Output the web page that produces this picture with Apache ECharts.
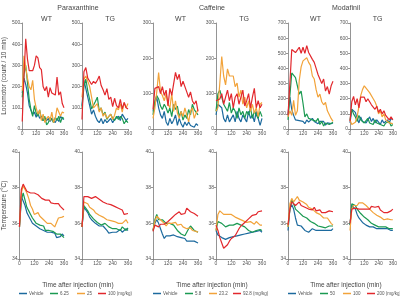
<!DOCTYPE html>
<html>
<head>
<meta charset="utf-8">
<script src="https://cdn.jsdelivr.net/npm/echarts@6/dist/echarts.min.js"></script>
<style>
  html, body { margin: 0; padding: 0; background: #fff; }
  #main { width: 400px; height: 297px; }
</style>
</head>
<body>
<div id="main"></div>
<script>
// sampling times (min) and tick labels
var times = [0, 15, 30, 45, 60, 75, 90, 105, 120, 135, 150, 165, 180, 195, 210, 225, 240, 255, 270, 285, 300, 315, 330, 345, 360];
var xTicks = [0, 120, 240, 360];
var drugs = ['Paraxanthine', 'Caffeine', 'Modafinil'];
var genotypes = ['WT', 'TG'];
var pxDoses = ['Vehicle', '6.25', '25', '100 (mg/kg)'];
var cafDoses = ['Vehicle', '5.8', '23.2', '92.8 (mg/kg)'];
var modDoses = ['Vehicle', '50', '100', '200 (mg/kg)'];
var locoMax = [500, 300, 700];

// locomotor (count / 10 min)
var pxWtLocoVeh = [170, 240, 210, 170, 110, 90, 70, 80, 55, 75, 50, 60, 40, 50, 40, 50, 35, 50, 40, 30, 50, 35, 60, 50, 45];
var pxWtLocoLow = [150, 260, 300, 220, 140, 90, 60, 110, 75, 60, 90, 50, 40, 60, 20, 30, 55, 45, 30, 55, 40, 60, 30, 55, 50];
var pxWtLocoMid = [180, 345, 290, 240, 200, 185, 230, 140, 100, 70, 90, 40, 70, 30, 50, 60, 40, 80, 30, 50, 100, 80, 60, 80, 75];
var pxWtLocoHigh = [35, 250, 425, 330, 275, 270, 275, 300, 345, 335, 290, 280, 200, 180, 200, 150, 195, 170, 175, 160, 245, 160, 175, 120, 100];
var pxTgLocoVeh = [110, 230, 190, 150, 110, 70, 90, 60, 40, 30, 50, 25, 45, 30, 40, 50, 30, 45, 40, 60, 40, 70, 55, 40, 50];
var pxTgLocoLow = [100, 200, 235, 180, 140, 95, 90, 130, 150, 85, 100, 65, 80, 45, 60, 70, 50, 40, 60, 45, 60, 50, 25, 40, 30];
var pxTgLocoMid = [150, 235, 250, 225, 200, 150, 100, 95, 120, 80, 100, 60, 75, 50, 60, 70, 45, 65, 100, 90, 120, 80, 125, 100, 120];
var pxTgLocoHigh = [45, 270, 290, 240, 225, 210, 225, 215, 230, 250, 205, 185, 160, 190, 140, 150, 105, 145, 110, 100, 140, 95, 125, 100, 95];

var cafWtLocoVeh = [50, 70, 90, 60, 40, 30, 50, 20, 10, 30, 15, 25, 40, 10, 30, 15, 5, 20, 10, 20, 10, 15, 5, 15, 10];
var cafWtLocoLow = [40, 80, 95, 85, 65, 55, 70, 60, 45, 60, 35, 70, 55, 65, 35, 50, 25, 40, 30, 55, 40, 70, 55, 50, 40];
var cafWtLocoMid = [30, 60, 105, 160, 105, 95, 80, 100, 70, 60, 100, 50, 80, 45, 30, 50, 35, 60, 40, 20, 50, 60, 30, 45, 55];
var cafWtLocoHigh = [55, 115, 110, 120, 100, 120, 95, 110, 65, 115, 95, 100, 160, 140, 155, 120, 135, 140, 105, 90, 105, 80, 70, 80, 50];
var cafTgLocoVeh = [40, 70, 75, 60, 30, 20, 40, 20, 30, 40, 20, 50, 30, 20, 40, 30, 20, 50, 30, 40, 20, 50, 30, 10, 30];
var cafTgLocoLow = [50, 100, 110, 90, 70, 60, 50, 75, 45, 60, 50, 30, 60, 40, 50, 30, 50, 40, 60, 30, 50, 40, 30, 50, 35];
var cafTgLocoMid = [50, 60, 130, 205, 150, 125, 170, 150, 155, 150, 120, 130, 90, 110, 70, 90, 60, 80, 50, 70, 45, 60, 35, 70, 75];
var cafTgLocoHigh = [80, 75, 85, 100, 70, 90, 110, 80, 100, 60, 90, 100, 70, 90, 110, 65, 80, 100, 60, 90, 115, 60, 80, 60, 70];

var modWtLocoVeh = [100, 210, 130, 90, 60, 50, 55, 45, 50, 35, 60, 45, 45, 70, 50, 60, 35, 50, 40, 50, 25, 40, 50, 35, 40];
var modWtLocoLow = [60, 220, 370, 375, 340, 330, 230, 250, 170, 80, 100, 70, 80, 60, 70, 50, 70, 30, 50, 20, 40, 50, 30, 40, 45];
var modWtLocoMid = [80, 120, 90, 190, 90, 120, 320, 410, 450, 460, 470, 440, 420, 350, 330, 260, 210, 230, 180, 160, 175, 120, 130, 70, 50];
var modWtLocoHigh = [90, 300, 525, 520, 505, 500, 540, 500, 540, 500, 550, 505, 510, 460, 440, 400, 360, 370, 300, 330, 250, 280, 230, 285, 315];
var modTgLocoVeh = [40, 130, 130, 110, 70, 40, 80, 50, 60, 40, 60, 80, 50, 70, 40, 60, 50, 30, 60, 40, 50, 60, 40, 70, 60];
var modTgLocoLow = [60, 130, 100, 80, 50, 90, 60, 70, 40, 50, 70, 40, 50, 30, 60, 40, 50, 30, 40, 20, 40, 30, 50, 20, 30];
var modTgLocoMid = [60, 30, 30, 45, 80, 150, 220, 260, 285, 270, 280, 240, 250, 200, 180, 150, 100, 120, 80, 100, 60, 50, 40, 30, 35];
var modTgLocoHigh = [50, 180, 215, 160, 200, 140, 210, 220, 210, 180, 200, 180, 160, 170, 130, 150, 110, 130, 100, 120, 90, 80, 60, 80, 60];

// body temperature (°C)
var pxWtTempVeh = [35.8, 37.5, 37.6, 37.0, 36.6, 36.4, 36.2, 36.0, 35.9, 35.85, 35.8, 35.7, 35.65, 35.6, 35.6, 35.5, 35.6, 35.5, 35.4, 35.45, 35.2, 35.3, 35.25, 35.4, 35.3];
var pxWtTempLow = [35.8, 37.3, 37.7, 37.3, 36.9, 36.7, 36.5, 36.3, 36.15, 36.0, 35.95, 35.9, 35.8, 35.85, 35.6, 35.7, 35.6, 35.5, 35.55, 35.5, 35.4, 35.35, 35.4, 35.3, 35.2];
var pxWtTempMid = [35.8, 37.7, 38.1, 37.9, 37.7, 37.4, 37.0, 36.8, 36.5, 36.5, 36.6, 36.4, 36.3, 36.2, 36.2, 36.0, 36.1, 36.0, 36.0, 35.8, 35.7, 36.3, 36.4, 36.35, 36.4];
var pxWtTempHigh = [35.8, 37.9, 38.2, 38.0, 37.8, 37.7, 37.7, 37.75, 37.7, 37.7, 37.6, 37.5, 37.4, 37.3, 37.3, 37.25, 37.3, 37.15, 37.1, 37.1, 37.05, 37.1, 36.95, 37.0, 36.75];
var pxTgTempVeh = [35.8, 36.9, 36.75, 36.6, 36.35, 36.2, 36.1, 36.0, 35.9, 35.85, 35.9, 35.85, 35.75, 35.6, 35.45, 35.45, 35.5, 35.6, 35.5, 35.6, 35.65, 35.5, 35.6, 35.7, 35.6];
var pxTgTempLow = [35.8, 37.0, 37.0, 36.7, 36.5, 36.4, 36.25, 36.2, 36.05, 36.0, 35.9, 35.95, 36.0, 35.9, 35.8, 35.85, 35.7, 35.8, 35.7, 35.75, 35.6, 35.8, 35.7, 35.6, 35.75];
var pxTgTempMid = [35.8, 37.2, 37.2, 37.1, 36.9, 36.8, 36.75, 36.6, 36.5, 36.45, 36.4, 36.35, 36.3, 36.2, 36.2, 36.15, 36.1, 36.1, 36.05, 36.0, 36.0, 36.0, 35.9, 36.2, 36.0];
var pxTgTempHigh = [35.8, 37.5, 37.6, 37.5, 37.4, 37.4, 37.45, 37.5, 37.4, 37.35, 37.3, 37.2, 37.1, 37.1, 37.0, 37.05, 37.0, 36.95, 36.9, 36.85, 36.8, 36.75, 36.5, 36.5, 36.55];

var cafWtTempVeh = [35.6, 36.0, 36.2, 36.0, 35.7, 35.4, 35.15, 35.3, 35.2, 35.3, 35.2, 35.35, 35.3, 35.25, 35.2, 35.2, 35.1, 35.15, 35.0, 35.05, 35.0, 34.9, 35.0, 34.95, 34.9];
var cafWtTempLow = [35.6, 36.2, 36.5, 36.2, 36.1, 36.2, 36.2, 36.0, 36.1, 36.0, 36.0, 35.9, 35.8, 35.6, 35.5, 35.4, 35.3, 35.3, 35.5, 35.7, 35.85, 35.9, 35.6, 35.6, 35.5];
var cafWtTempMid = [35.6, 36.1, 36.4, 36.3, 36.2, 36.1, 36.0, 35.85, 36.0, 36.1, 36.0, 36.0, 36.05, 35.9, 35.8, 35.95, 35.8, 35.85, 35.7, 35.8, 35.75, 35.6, 35.7, 35.55, 35.5];
var cafWtTempHigh = [35.55, 35.9, 36.0, 35.8, 35.95, 35.9, 35.95, 36.0, 36.1, 36.2, 36.3, 36.35, 36.5, 36.55, 36.65, 36.5, 36.4, 36.55, 36.85, 36.8, 36.65, 36.7, 36.55, 36.5, 36.4];
var cafTgTempVeh = [35.6, 35.35, 35.25, 35.2, 35.15, 35.1, 35.15, 35.2, 35.2, 35.25, 35.3, 35.3, 35.3, 35.35, 35.35, 35.4, 35.45, 35.45, 35.5, 35.5, 35.55, 35.55, 35.5, 35.6, 35.5];
var cafTgTempLow = [35.6, 36.1, 36.2, 36.0, 35.9, 35.8, 35.8, 35.9, 35.8, 35.9, 35.9, 36.0, 36.0, 35.9, 36.0, 35.8, 35.7, 35.6, 35.55, 35.5, 35.6, 35.6, 35.7, 35.65, 35.6];
var cafTgTempMid = [35.6, 36.5, 36.7, 36.6, 36.5, 36.55, 36.5, 36.45, 36.5, 36.4, 36.35, 36.3, 36.25, 36.2, 36.15, 36.1, 36.05, 36.0, 36.1, 36.0, 35.95, 36.1, 36.0, 35.9, 35.9];
var cafTgTempHigh = [35.9, 35.6, 35.2, 34.9, 34.6, 34.55, 34.8, 35.0, 35.15, 35.25, 35.3, 35.5, 35.7, 35.85, 35.95, 36.05, 36.15, 36.25, 36.35, 36.45, 36.55, 36.5, 36.65, 36.6, 36.7];

var modWtTempVeh = [35.6, 36.8, 37.05, 36.8, 36.3, 35.9, 35.8, 35.85, 35.75, 35.6, 35.5, 35.5, 35.55, 35.7, 35.7, 35.6, 35.5, 35.6, 35.7, 35.6, 35.7, 35.6, 35.7, 35.6, 35.7];
var modWtTempLow = [35.8, 36.8, 37.3, 37.1, 36.8, 36.7, 36.6, 36.5, 36.4, 36.3, 36.3, 36.2, 36.1, 36.0, 36.0, 35.9, 35.85, 35.8, 35.8, 35.7, 35.75, 35.8, 35.85, 35.8, 35.85];
var modWtTempMid = [35.8, 37.1, 37.4, 37.2, 37.35, 37.5, 37.3, 37.4, 37.2, 37.1, 37.05, 36.9, 36.9, 36.8, 36.85, 36.6, 36.7, 36.5, 36.5, 36.3, 36.25, 36.3, 36.15, 36.0, 35.9];
var modWtTempHigh = [35.9, 36.8, 37.2, 37.1, 37.0, 37.1, 37.2, 37.0, 37.0, 36.9, 36.95, 36.8, 36.8, 36.75, 36.9, 36.7, 36.65, 36.75, 36.6, 36.65, 36.6, 36.55, 36.7, 36.7, 36.65];
var modTgTempVeh = [35.9, 37.0, 37.05, 36.8, 36.5, 36.3, 36.2, 36.05, 36.0, 35.9, 36.0, 35.8, 35.9, 35.8, 35.8, 35.7, 35.8, 35.7, 35.8, 35.7, 35.6, 35.7, 35.7, 35.6, 35.6];
var modTgTempLow = [35.9, 37.1, 37.2, 37.0, 36.8, 36.7, 36.55, 36.45, 36.35, 36.25, 36.2, 36.1, 36.0, 36.0, 35.9, 35.9, 35.8, 35.8, 35.8, 35.85, 35.8, 35.7, 35.7, 35.75, 35.7];
var modTgTempMid = [35.6, 36.8, 37.0, 37.05, 37.0, 37.15, 37.2, 37.15, 37.1, 37.0, 36.9, 36.8, 36.7, 36.6, 36.5, 36.45, 36.4, 36.35, 36.3, 36.2, 36.3, 36.25, 36.2, 36.2, 36.2];
var modTgTempHigh = [36.0, 36.8, 36.9, 36.85, 36.9, 36.8, 36.7, 36.8, 36.75, 36.8, 36.9, 36.8, 36.95, 37.0, 36.9, 36.85, 36.95, 36.75, 36.7, 36.6, 36.7, 36.6, 36.65, 36.7, 36.8];

var colors = ['#1c6a9e', '#1b9a52', '#f2a33a', '#e2282d'];
var font = 'Liberation Sans, Arial, sans-serif';
var grey = '#7a7a7a';

// panel columns: [drug index, genotype index, left, width]
var cols = [
  [0, 0, 19, 45], [0, 1, 82, 46],
  [1, 0, 153, 45], [1, 1, 216, 46],
  [2, 0, 288, 45], [2, 1, 350, 45]
];
var rows = [{ top: 23, height: 106 }, { top: 152, height: 107 }];
// legend icon left edges, one row per drug
var legendLefts = [[19, 50, 77, 98], [153, 185, 209, 233], [288, 320, 343, 367]];

var loco = [
  [[pxWtLocoVeh, pxWtLocoLow, pxWtLocoMid, pxWtLocoHigh], [pxTgLocoVeh, pxTgLocoLow, pxTgLocoMid, pxTgLocoHigh]],
  [[cafWtLocoVeh, cafWtLocoLow, cafWtLocoMid, cafWtLocoHigh], [cafTgLocoVeh, cafTgLocoLow, cafTgLocoMid, cafTgLocoHigh]],
  [[modWtLocoVeh, modWtLocoLow, modWtLocoMid, modWtLocoHigh], [modTgLocoVeh, modTgLocoLow, modTgLocoMid, modTgLocoHigh]]
];
var temp = [
  [[pxWtTempVeh, pxWtTempLow, pxWtTempMid, pxWtTempHigh], [pxTgTempVeh, pxTgTempLow, pxTgTempMid, pxTgTempHigh]],
  [[cafWtTempVeh, cafWtTempLow, cafWtTempMid, cafWtTempHigh], [cafTgTempVeh, cafTgTempLow, cafTgTempMid, cafTgTempHigh]],
  [[modWtTempVeh, modWtTempLow, modWtTempMid, modWtTempHigh], [modTgTempVeh, modTgTempLow, modTgTempMid, modTgTempHigh]]
];
var doseNames = [pxDoses, cafDoses, modDoses];

function pairs(ys) {
  return ys.map(function (y, i) { return [times[i], y]; });
}

var grid = [], xAxis = [], yAxis = [], series = [], title = [], legend = [];
var axisCommon = {
  axisLine: { lineStyle: { color: grey, width: 0.8 } },
  axisTick: { length: 2, lineStyle: { color: grey, width: 0.8 } },
  axisLabel: { fontSize: 5, color: '#555', fontFamily: font, margin: 2 },
  splitLine: { show: false }
};

rows.forEach(function (row, r) {
  cols.forEach(function (c, ci) {
    var gi = grid.length;
    grid.push({ left: c[2], width: c[3], top: row.top, height: row.height });
    xAxis.push(Object.assign({
      gridIndex: gi, type: 'value', min: xTicks[0], max: xTicks[3], interval: xTicks[1]
    }, axisCommon));
    var y = Object.assign({ gridIndex: gi, type: 'value' }, axisCommon);
    if (r === 0) {
      y.min = 0; y.max = locoMax[c[0]]; y.interval = 100;
    } else {
      y.min = 34; y.max = 40; y.interval = 2;
    }
    if (ci === 0) {
      y.name = r === 0 ? 'Locomotor (count / 10 min)' : 'Temperature (°C)';
      y.nameLocation = 'middle';
      y.nameGap = 11;
      y.nameTextStyle = { fontSize: 6.5, color: '#444', fontFamily: font };
    }
    yAxis.push(y);
    var set = (r === 0 ? loco : temp)[c[0]][c[1]];
    set.forEach(function (vals, k) {
      series.push({
        type: 'line', name: doseNames[c[0]][k], xAxisIndex: gi, yAxisIndex: gi,
        data: pairs(vals), symbol: 'none', animation: false,
        color: colors[k], lineStyle: { width: 1.2, color: colors[k] }
      });
    });
    if (r === 0) {
      title.push({
        text: genotypes[c[1]], left: c[2] + c[3] / 2, top: 11, textAlign: 'center',
        textStyle: { fontSize: 7, fontWeight: 'normal', color: '#444', fontFamily: font }
      });
    }
  });
});

drugs.forEach(function (d, i) {
  var center = [73, 207, 341][i];
  title.push({
    text: d, left: center, top: 0, textAlign: 'center',
    textStyle: { fontSize: 7, fontWeight: 'normal', color: '#444', fontFamily: font }
  });
  title.push({
    text: 'Time after injection (min)', left: center, top: 277, textAlign: 'center',
    textStyle: { fontSize: 6.5, fontWeight: 'normal', color: '#444', fontFamily: font }
  });
  doseNames[i].forEach(function (name, k) {
    legend.push({
      data: [name], left: legendLefts[i][k], top: 291,
      icon: 'rect', itemWidth: 8, itemHeight: 1.5,
      padding: 0,
      textStyle: { fontSize: 4.5, color: '#555', fontFamily: font, padding: [0, 0, 0, -3] }
    });
  });
});

var chart = echarts.init(document.getElementById('main'), null, { renderer: 'canvas' });
chart.setOption({
  animation: false,
  title: title,
  legend: legend,
  grid: grid,
  xAxis: xAxis,
  yAxis: yAxis,
  series: series
});
</script>
</body>
</html>
